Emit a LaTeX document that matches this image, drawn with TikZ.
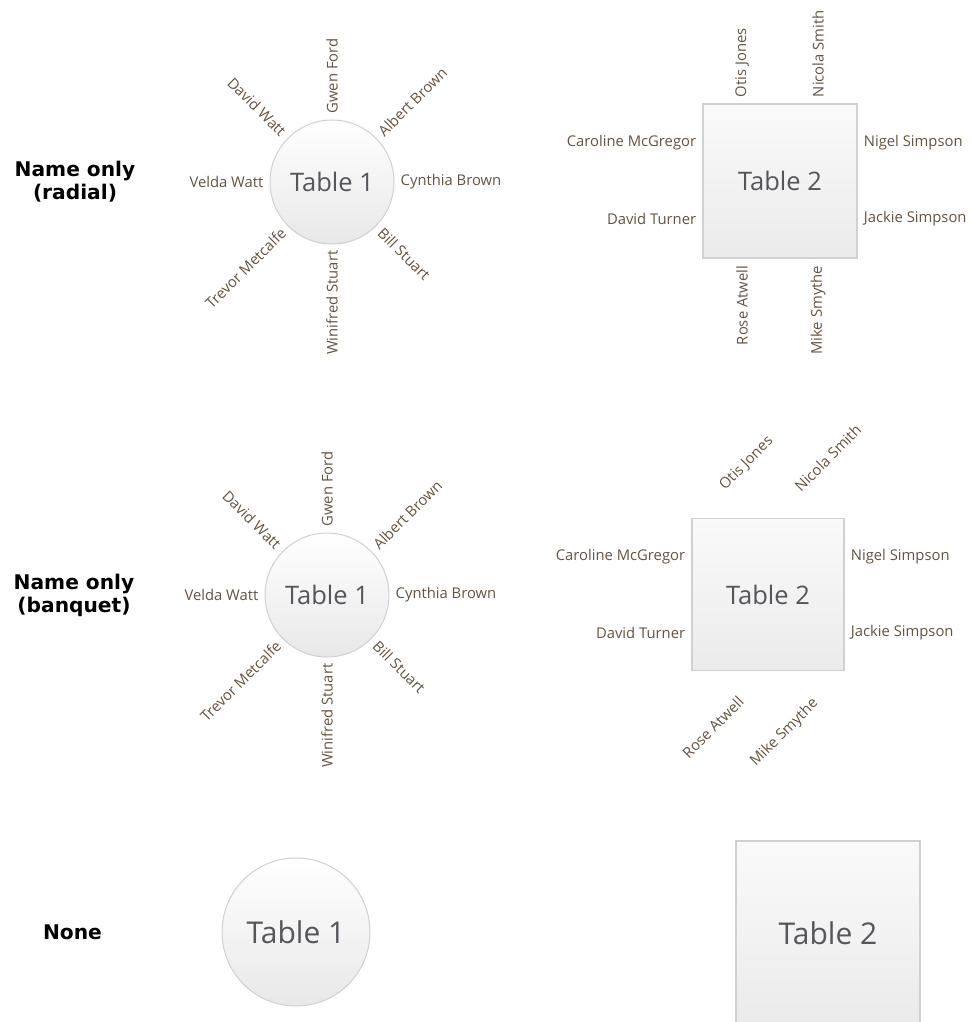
\documentclass[tikz,border=0pt]{standalone}
\usepackage{fontspec}
\setmainfont{Open Sans}
\newfontfamily\rowfont{DejaVu Sans}
\usetikzlibrary{positioning,calc}
\definecolor{seatbrown}{RGB}{100,83,62}
\definecolor{tablegray}{RGB}{85,85,92}
\definecolor{rimgray}{RGB}{208,208,208}

\begin{document}
\begin{tikzpicture}[x=1pt,y=1pt,
  rowlbl/.style={font=\rowfont\bfseries\fontsize{20.2}{23}\selectfont,align=center,inner sep=0},
  seat/.style={font=\fontsize{14.8}{17}\selectfont,text=seatbrown,inner sep=0},
  rnd/.style={circle,draw=rimgray,line width=1pt,top color=white,bottom color=black!9,inner sep=0,minimum size=124,text=tablegray,font=\fontsize{25.5}{30}\selectfont},
  sq/.style={rectangle,draw=rimgray,line width=1.4pt,top color=white!98!black,bottom color=black!8,inner sep=0,minimum size=153,text=tablegray,font=\fontsize{25.5}{30}\selectfont}]
\useasboundingbox (0,0) rectangle (972,-1022);
% row captions
\node[rowlbl] (r1) at (75,-181.5) {Name only\\(radial)};
\node[rowlbl] (r2) at (74,-595.5) {Name only\\(banquet)};
\node[rowlbl] (r3) at (72.5,-932) {None};
% round tables
\node[rnd] (c1) at (332,-182) {Table 1};
\node[rnd] (c2) at (327,-595) {Table 1};
\node[rnd,minimum size=148,font=\fontsize{30}{36}\selectfont] (c3) at (296,-932) {Table 1};
\foreach \c in {c1,c2}{
  \foreach \a/\n in {90/Gwen Ford,45/Albert Brown,0/Cynthia Brown,-45/Bill Stuart}
    \node[seat,anchor=west,rotate=\a] (\c-\a) at ([shift={(\a:6)}]\c.\a) {\n};
  \foreach \a/\n in {135/David Watt,180/Velda Watt,-135/Trevor Metcalfe,-90/Winifred Stuart}
    \node[seat,anchor=east,rotate=\a+180] (\c-\a) at ([shift={(\a:6)}]\c.\a) {\n};
}
% square tables
\node[sq,minimum size=154] (s1) at (780,-181) {Table 2};
\node[sq,minimum size=152] (s2) at (768,-594.5) {Table 2};
\node[sq,minimum size=184,font=\fontsize{30}{36}\selectfont] (s3) at (828,-933) {Table 2};
% radial seats
\node[seat,anchor=west,rotate=90] (s1a) at ([shift={(-38,6)}]s1.north) {Otis Jones};
\node[seat,anchor=west,rotate=90] (s1b) at ([shift={(38,6)}]s1.north) {Nicola Smith};
\node[seat,anchor=east] (s1c) at ([shift={(-6,38)}]s1.west) {Caroline McGregor};
\node[seat,anchor=east] (s1d) at ([shift={(-6,-38)}]s1.west) {David Turner};
\node[seat,anchor=west] (s1e) at ([shift={(6,38)}]s1.east) {Nigel Simpson};
\node[seat,anchor=west] (s1f) at ([shift={(6,-38)}]s1.east) {Jackie Simpson};
\node[seat,anchor=east,rotate=90] (s1g) at ([shift={(-38,-7)}]s1.south) {Rose Atwell};
\node[seat,anchor=east,rotate=90] (s1h) at ([shift={(38,-7)}]s1.south) {Mike Smythe};
% banquet seats
\node[seat,anchor=west,rotate=45] (s2a) at ([shift={(-46,30)}]s2.north) {Otis Jones};
\node[seat,anchor=west,rotate=45] (s2b) at ([shift={(29,29)}]s2.north) {Nicola Smith};
\node[seat,anchor=east] (s2c) at ([shift={(-6,38)}]s2.west) {Caroline McGregor};
\node[seat,anchor=east] (s2d) at ([shift={(-6,-38)}]s2.west) {David Turner};
\node[seat,anchor=west] (s2e) at ([shift={(6,38)}]s2.east) {Nigel Simpson};
\node[seat,anchor=west] (s2f) at ([shift={(6,-38)}]s2.east) {Jackie Simpson};
\node[seat,anchor=east,rotate=45] (s2g) at ([shift={(-27,-28)}]s2.south) {Rose Atwell};
\node[seat,anchor=east,rotate=45] (s2h) at ([shift={(48,-30)}]s2.south) {Mike Smythe};
\end{tikzpicture}
\end{document}
